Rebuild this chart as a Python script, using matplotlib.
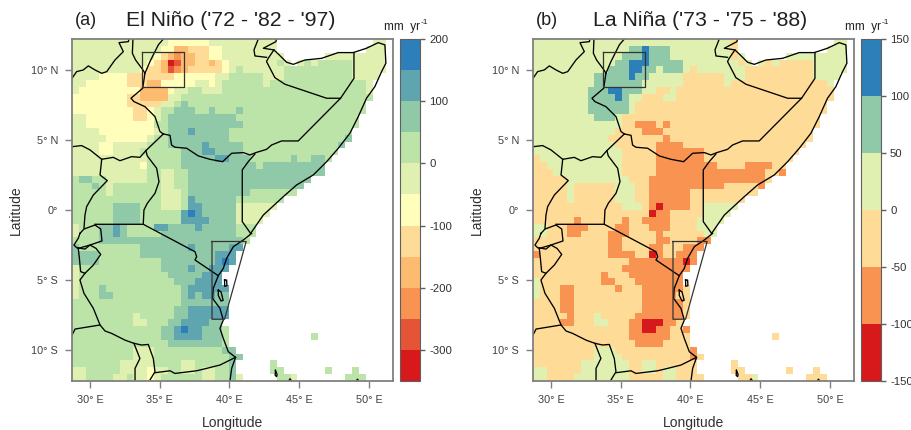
import re
import numpy as np
import matplotlib
matplotlib.use('Agg')
import matplotlib.pyplot as plt
from matplotlib.colors import ListedColormap, BoundaryNorm

plt.rcParams['font.family'] = ['Liberation Sans', 'DejaVu Sans']
plt.rcParams['axes.unicode_minus'] = False

# rainfall anomaly class per grid cell, north to south, run length coded: 12g = 12 cells of class g, . = no data
nino_levels = [-350, -300, -250, -200, -150, -100, -50, 0, 50, 100, 150, 200]
nino_colors = ['#d7191c', '#e55535', '#f89352', '#fdbb70', '#fedc98', '#ffffbb',
               '#e0f0b0', '#bce4a8', '#8fc9a8', '#5fa5b0', '#2c7fb8']
nina_levels = [-150, -100, -50, 0, 50, 100, 150]
nina_colors = ['#d7191c', '#f89352', '#fedc98', '#e0f0b0', '#8fc9a8', '#2c7fb8']

nino_rows = [
    '14g 6f 10g 14. 2g',
    '13g 2f 2d 3e 2f 8g 13. 3g',
    '12g 1f 1e 1d 1c 2d 2e 2f 9g 6. 9g',
    '11g 1f 1e 1d 1a 1b 2d 2e 1d 1e 1f 7g 1h 1g 1. 1g 1h 1g 5h 5g',
    '10g 1f 2e 1d 1b 1c 1d 5e 1f 1g 1h 6g 10h 5g',
    '4g 4f 7e 6f 2g 5h 3g 10h 4g',
    '2g 6f 3e 2d 5f 2g 1f 1g 6h 1g 14h 1g',
    '1g 9f 4d 1f 2g 2h 3g 21h 1g',
    '8f 2e 4d 2g 28h',
    '8f 5e 2g 1h 1i 26h',
    '9f 2e 1f 1g 2h 3i 2h 1i 3h 1i 18h',
    '2g 7f 2e 1f 1g 1h 10i 18h',
    '2g 10f 2h 11i 17h',
    '4g 8f 1g 1h 3i 1j 5i 18h',
    '5g 6f 1g 2h 9i 17h 1i',
    '4g 2f 5g 3h 5i 1j 5i 14h 1i',
    '4g 2f 4g 6h 3i 2j 4i 14h',
    '11g 5h 5i 2j 3i 6h 1i 2h 2i 1h',
    '10g 1f 5h 11i 1h 9i',
    '11g 2h 2g 2h 20i',
    '1h 2i 2h 6g 2h 2g 2h 18i',
    '3h 1i 1h 1g 7h 2g 2h 17i',
    '5h 1g 7h 3g 1h 9i 7h',
    '13h 3g 1h 1j 6i 7h',
    '6h 4i 3h 3g 1h 2j 5i 6g',
    '6h 4i 6h 1j 1k 1j 5i 5g',
    '6h 4i 6h 4j 4i 4g',
    '1g 3h 2i 1j 1i 4h 2j 4i 1j 5i 3h',
    '1g 3h 2i 1j 1i 5h 11i 3h',
    '4h 21i 1h',
    '1i 9h 7i 1j 5i 2j',
    '4i 6h 11i 3j',
    '4i 9h 8i 1j 1k 1j',
    '1g 12h 4i 1j 2i 3j',
    '1g 13h 5i 3j',
    '1g 14h 3i 4j',
    '1g 3h 1i 11h 1i 6j',
    '1g 3h 2i 10h 1i 1j 1i 2j 2i',
    '16h 7i',
    '15h 2i 6j',
    '9h 1g 5h 2i 6j',
    '9h 2g 3h 2i 4j 2i',
    '13h 2i 1j 1k 2j 3i 1h',
    '13h 2i 4j 3i 1h 12. 1h',
    '14h 8i 1h',
    '9h 3g 10h 2i',
    '9h 3g 11h 2i',
    '7h 5g 4h 2g 5h 1i 5. 1h',
    '2g 5h 4g 1f 2g 2h 2g 1h 2g 2h 1i 5. 2h 6. 1h 3. 1h',
    '2g 4h 2g 1h 2g 1f 1g 6h 2g 2h 1i 1g 5. 2h 1g 7. 3h',
]

nina_rows = [
    '29d 1c 14. 2d',
    '14d 2e 1f 3e 9d 1c 13. 3d',
    '13d 3e 1f 3e 9d 1c 1d 6. 9d',
    '12d 2e 3f 5e 8d 1c 1d 1. 1d 1c 1d 5c 5d',
    '11d 3e 2f 2e 1d 3e 1d 1c 7d 10c 5d',
    '9d 5e 1f 2e 5d 6c 3d 10c 4d',
    '9d 7e 6d 6c 1d 14c 1d',
    '8d 3e 2f 3e 2d 2c 1d 23c',
    '8d 4e 1f 1e 2d 3c 2d 23c',
    '8d 6e 1d 28c',
    '8d 6e 1d 28c',
    '9d 3e 1d 29c',
    '13d 2c 3b 1c 1b 22c',
    '12d 4c 3b 22c',
    '11d 8c 1b 21c',
    '12d 6c 4b 18c',
    '13d 5c 7b 14c',
    '1c 12d 5c 7b 13c',
    '2c 11d 5c 9b 4c 4b 2c',
    '3c 10d 5c 16b 2c 1b',
    '5c 9d 3c 17b 1c',
    '5c 1d 6c 3d 2c 11b 5c 1b',
    '5c 1d 6c 3d 2c 6b 10c',
    '5c 1d 6c 3d 2c 6b 8c',
    '13c 3d 1c 1b 1a 4b 2c 5d',
    '17c 1a 2b 5c 4d',
    '6c 1b 6c 1b 2c 4b 4c 4d',
    '2d 3c 3b 4c 2b 3c 3b 4c 3d',
    '2d 3c 2b 4c 3b 4c 1b 6c 2d',
    '11c 2b 5c 2b 4c 2b',
    '11c 2b 4c 2b 3c 3b',
    '1b 10c 4b 2c 1a 1b 2c 3b',
    '14c 8b 1a 1b',
    '13c 10b',
    '10c 1b 3c 8b',
    '1d 9c 2b 3c 7b',
    '1d 3c 2b 6c 1b 3c 6b 1c',
    '1d 3c 2b 10c 5b 2c',
    '4c 2b 10c 6b 1c',
    '4c 2b 10c 6b 1c',
    '5c 1b 3c 1d 5c 7b 1c',
    '4c 2b 3c 2d 3c 2b 3a 2b 1c',
    '14c 2b 2a 2b 2c 1b',
    '14c 6b 3c 12. 1c',
    '15c 4b 4c',
    '9c 3d 11c 1b',
    '9c 4d 10c 1b 1c',
    '7c 7d 2c 2d 6c 5. 1c',
    '2d 5c 7d 2c 2d 1c 2d 3c 5. 2c 6. 1c 3. 1c',
    '2d 4c 8d 5c 2d 4c 5. 2c 1d 7. 3c',
]

# country borders and coast, lon/lat
sudan_south = [(28.71, 9.40), (29.04, 9.88), (29.52, 10.0), (29.88, 10.29), (30.36, 10.0), (30.84, 9.76), (31.2, 9.88),
               (31.79, 10.71), (32.27, 11.19), (32.39, 11.31), (32.08, 11.95), (32.75, 12.02), (32.8, 12.21)]
sudan_east = [(33.08, 12.21), (33.04, 11.19), (33.27, 10.71), (33.8, 10.0), (33.94, 9.76)]
ethiopia_west = [(35.26, 12.21), (34.9, 11.79), (34.3, 10.6), (33.94, 9.76), (33.78, 8.69), (32.94, 7.98), (33.15, 7.74),
                 (33.94, 7.38), (34.66, 6.67), (35.02, 5.6), (35.26, 5.43)]
ethiopia_kenya = [(35.26, 5.43), (35.74, 5.33), (35.85, 4.64), (36.09, 4.48), (36.93, 4.41), (37.77, 3.86), (38.6, 3.62),
                  (39.51, 3.45), (40.16, 4.05), (41.0, 4.1), (41.47, 3.93), (41.9, 4.1), (42.66, 4.33), (43.02, 4.64),
                  (43.74, 4.93), (44.93, 4.93), (47.97, 7.98), (46.97, 7.98), (43.98, 8.98), (43.26, 9.45), (42.66, 10.6),
                  (42.78, 10.83), (43.19, 11.43)]
somalia_north = [(47.97, 7.98), (48.93, 9.4), (48.93, 11.24)]
djibouti = [(42.07, 12.21), (41.76, 11.43), (41.83, 11.0), (42.66, 10.9)]
south_sudan_uganda = [(28.71, 4.52), (29.4, 4.6), (30.0, 4.29), (30.84, 3.62), (31.67, 3.76), (32.15, 3.52), (32.99, 3.81),
                      (33.58, 3.76), (34.01, 4.24), (35.26, 5.43)]
uganda_kenya = [(34.01, 4.24), (34.11, 3.86), (34.78, 2.98), (34.95, 2.02), (34.66, 1.19), (34.11, 0.48), (33.87, 0.0),
                (33.82, -1.02)]
uganda_drc = [(30.84, 3.62), (30.72, 2.5), (31.24, 2.1), (30.24, 1.07), (29.76, 0.24), (29.64, -0.36), (29.57, -1.3)]
kenya_somalia = [(41.83, 4.0), (41.35, 3.45), (40.92, 2.86), (40.92, 0.0), (40.92, -0.83), (41.52, -1.67)]
tanzania_north = [(30.36, -1.02), (33.82, -1.02), (37.53, -2.98), (37.65, -3.33), (37.53, -3.57), (39.2, -4.69)]
rwanda = [(29.28, -1.67), (29.57, -1.36), (30.36, -1.07), (30.77, -1.36), (30.86, -2.21), (30.0, -2.5), (29.64, -2.79),
          (29.04, -2.69), (28.85, -2.5), (29.16, -2.02), (29.28, -1.67)]
burundi = [(29.16, -2.74), (30.0, -2.5), (30.43, -2.74), (30.77, -3.17), (30.24, -3.93), (29.64, -4.52), (29.33, -4.4),
           (29.24, -3.45), (29.16, -2.74)]
tanganyika = [(29.64, -4.52), (29.28, -5.0), (29.57, -5.95), (30.24, -7.02), (30.72, -8.21), (28.93, -8.5), (28.71, -8.93)]
zambia = [(30.72, -8.21), (31.08, -8.64), (31.55, -8.81), (32.51, -9.29), (33.15, -9.52), (33.7, -9.64), (34.18, -9.6),
          (34.54, -10.6), (34.66, -11.55), (34.3, -12.14)]
malawi = [(33.15, -9.52), (33.58, -10.6), (33.23, -11.31), (33.23, -12.21)]
tanzania_moz = [(34.66, -11.62), (35.74, -11.48), (36.09, -11.67), (37.65, -11.48), (38.36, -11.31), (39.32, -11.07), (40.44, -10.52)]
coast_south = [(41.59, -1.67), (41.0, -2.14), (40.28, -2.62), (39.8, -3.45), (39.56, -4.17), (39.2, -4.69), (38.84, -5.6),
               (38.79, -6.31), (39.32, -7.02), (39.56, -7.86), (39.32, -8.45), (39.56, -9.17), (39.92, -10.12), (40.44, -10.52),
               (40.16, -11.31), (40.04, -12.21)]
coast_north = [(41.52, -1.67), (42.43, -0.36), (42.9, 0.07), (43.86, 0.95), (44.82, 1.79), (46.01, 2.5), (46.97, 3.45),
               (47.8, 4.4), (48.64, 5.48), (49.24, 6.67), (49.83, 7.98), (50.43, 8.81), (50.91, 9.88), (51.22, 10.48),
               (51.15, 11.79), (50.67, 11.95), (49.83, 11.55), (48.88, 11.24), (47.8, 11.24), (46.61, 10.83), (45.41, 10.71),
               (44.58, 10.4), (44.1, 10.55), (43.5, 11.14), (43.19, 11.43), (42.43, 11.55), (43.33, 12.02), (43.38, 12.21)]
pemba = [(39.65, -5.0), (39.8, -5.0), (39.82, -5.4), (39.66, -5.45), (39.65, -5.0)]
zanzibar = [(39.2, -5.72), (39.4, -5.85), (39.55, -6.45), (39.4, -6.5), (39.2, -6.1), (39.2, -5.72)]
comoros = [(43.3, -11.45), (43.42, -11.75), (43.38, -11.9), (43.28, -11.8), (43.3, -11.45)]
mayotte = [(44.25, -12.21), (44.35, -12.05), (44.45, -12.21)]
agalega = [(49.1, -12.21), (49.18, -12.08), (49.28, -12.21)]
borders = [sudan_south, sudan_east, ethiopia_west, ethiopia_kenya, somalia_north, djibouti, south_sudan_uganda, uganda_kenya,
           uganda_drc, kenya_somalia, tanzania_north, rwanda, burundi, tanganyika, zambia, malawi, tanzania_moz, coast_south,
           coast_north, pemba, zanzibar, comoros, mayotte, agalega]

# study regions
box_north = [(33.75, 11.25), (36.75, 11.25), (36.75, 8.75), (33.75, 8.75), (33.75, 11.25)]
box_south = [(38.75, -2.25), (41.2, -2.25), (39.65, -7.8), (38.75, -7.8), (38.75, -2.25)]

lon_ticks = [30, 35, 40, 45, 50]
lon_labels = ['30° E', '35° E', '40° E', '45° E', '50° E']
lat_ticks = [10, 5, 0, -5, -10]
lat_labels = ['10° N', '5° N', '0°', '5° S', '10° S']

lon_edges = np.linspace(28.71, 51.73, 48)
lat_edges = np.linspace(12.21, -12.21, 51)


def decode(rows, levels):
    mids = (np.array(levels[:-1]) + np.array(levels[1:])) / 2
    grid = np.full((50, 47), np.nan)
    for i, row in enumerate(rows):
        j = 0
        for n, code in re.findall(r'(\d+)([a-k.])', row):
            n = int(n)
            if code != '.':
                grid[i, j:j + n] = mids[ord(code) - ord('a')]
            j += n
    return np.ma.masked_invalid(grid)


def draw_panel(ax, cax, rows, levels, colors, letter, title, title_x, ticks):
    cmap = ListedColormap(colors)
    norm = BoundaryNorm(levels, cmap.N)
    mesh = ax.pcolormesh(lon_edges, lat_edges, decode(rows, levels), cmap=cmap, norm=norm, linewidth=0)
    for line in borders:
        ax.plot([p[0] for p in line], [p[1] for p in line], color='black', lw=0.95)
    for box in (box_north, box_south):
        ax.plot([p[0] for p in box], [p[1] for p in box], color='#333333', lw=0.9)
    ax.set_xlim(lon_edges[0], lon_edges[-1])
    ax.set_ylim(lat_edges[-1], lat_edges[0])
    ax.set_xticks(lon_ticks, lon_labels, fontsize=7.8, color='#404040')
    ax.set_yticks(lat_ticks, lat_labels, fontsize=7.8, color='#404040')
    ax.tick_params(length=5, width=1, color='#808080', pad=5)
    ax.set_xlabel('Longitude', fontsize=10, color='#303030')
    ax.set_ylabel('Latitude', fontsize=10, color='#303030')
    ax.xaxis.set_label_coords(0.5, -0.102)
    ax.yaxis.set_label_coords(-0.153, 0.5)
    for s in ax.spines.values():
        s.set_color('#808080')
        s.set_linewidth(1.3)
    ax.text(0.01, 1.055, letter, transform=ax.transAxes, fontsize=13, color='#202020', va='center')
    ax.text(title_x, 1.055, title, transform=ax.transAxes, fontsize=15.3, color='#202020', ha='center', va='center')

    cb = plt.colorbar(mesh, cax=cax, ticks=ticks, spacing='proportional')
    cb.minorticks_off()
    cb.ax.tick_params(length=3.5, width=1, color='#606060', labelsize=8.2, labelcolor='#303030', pad=3)
    cb.outline.set_edgecolor('#606060')
    cb.outline.set_linewidth(0.8)
    cax.text(1.0, 1.035, 'mm  yr', transform=cax.transAxes, fontsize=8.5, color='#202020', ha='right', va='center')
    cax.text(1.03, 1.047, '-1', transform=cax.transAxes, fontsize=6, color='#202020', ha='left', va='center')


fig = plt.figure(figsize=(9.12, 4.30), dpi=100)


def axes_px(x0, y0, x1, y1):
    return fig.add_axes([x0 / 912, 1 - y1 / 430, (x1 - x0) / 912, (y1 - y0) / 430])


draw_panel(axes_px(72, 39, 393, 381), axes_px(400, 39, 420, 381), nino_rows, nino_levels, nino_colors,
           '(a)', "El Niño ('72 - '82 - '97)", 0.493, [-300, -200, -100, 0, 100, 200])
draw_panel(axes_px(533, 39, 854, 381), axes_px(861, 39, 881, 381), nina_rows, nina_levels, nina_colors,
           '(b)', "La Niña ('73 - '75 - '88)", 0.52, [-150, -100, -50, 0, 50, 100, 150])

plt.savefig('out.png', dpi=100)
